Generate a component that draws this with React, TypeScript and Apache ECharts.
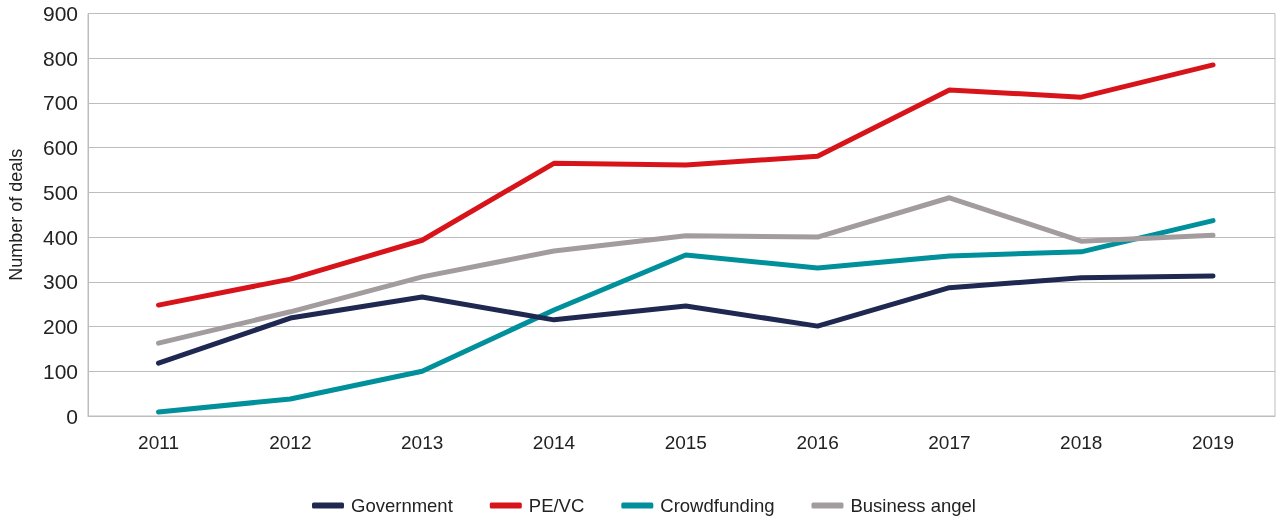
import React, { useEffect, useRef } from "react";
import * as echarts from "echarts";

const years = ["2011", "2012", "2013", "2014", "2015", "2016", "2017", "2018", "2019"];
const government = [118, 219, 266, 215, 246, 201, 287, 309, 313];
const peVc = [248, 306, 393, 565, 561, 581, 729, 713, 785];
const crowdfunding = [9, 38, 100, 237, 360, 331, 358, 367, 437];
const businessAngel = [163, 233, 311, 369, 403, 400, 488, 391, 404];

const seriesNames = ["Government", "PE/VC", "Crowdfunding", "Business angel"];
const seriesColors = ["#1f2851", "#d8141b", "#00909b", "#a39c9f"];

export default function App() {
  const ref = useRef<HTMLDivElement>(null);
  useEffect(() => {
    if (!ref.current) return;
    const chart = echarts.init(ref.current, null, { renderer: "svg" });
    const data = [government, peVc, crowdfunding, businessAngel];
    const font = "'Liberation Sans', Arial, sans-serif";
    chart.setOption({
      animation: false,
      grid: {
        left: 88,
        right: 2,
        top: 13.5,
        bottom: 102,
        containLabel: false,
        outerBoundsMode: "none",
        show: true,
        borderColor: "#bdbdbd",
        borderWidth: 1,
      },
      legend: {
        data: seriesNames,
        left: 307,
        top: 491,
        icon: "roundRect",
        itemWidth: 32,
        itemHeight: 6,
        itemGap: 37,
        textStyle: {
          fontFamily: font,
          fontSize: 18.5,
          color: "#222222",
          padding: [0, 0, 0, 2],
        },
      },
      xAxis: {
        type: "value",
        min: -0.535,
        max: 8.47,
        axisLine: { show: true, onZero: false, lineStyle: { color: "#bdbdbd", width: 1 } },
        axisTick: { show: false },
        axisLabel: {
          customValues: years.map((_, i) => i),
          formatter: (v: number) => years[Math.round(v)] ?? "",
          margin: 17,
          fontFamily: font,
          fontSize: 19,
          color: "#222222",
        },
        splitLine: { show: false },
      },
      yAxis: {
        type: "value",
        min: 0,
        max: 900,
        interval: 100,
        name: "Number of deals",
        nameLocation: "middle",
        nameGap: 63,
        nameRotate: 90,
        nameTextStyle: { fontFamily: font, fontSize: 18, color: "#222222" },
        axisLine: { show: true, onZero: false, lineStyle: { color: "#bdbdbd", width: 1 } },
        axisTick: { show: false },
        axisLabel: {
          margin: 10,
          fontFamily: font,
          fontSize: 21,
          color: "#222222",
        },
        splitLine: { show: true, lineStyle: { color: "#bdbdbd", width: 1 } },
      },
      series: seriesNames.map((name, i) => ({
        name,
        type: "line",
        data: data[i].map((v, j) => [j, v]),
        showSymbol: false,
        symbol: "none",
        color: seriesColors[i],
        lineStyle: { width: 5, color: seriesColors[i], cap: "round", join: "round" },
        z: 2 + (i === 0 ? 3 : i === 1 ? 4 : i === 2 ? 1 : 2),
      })),
    });
    return () => chart.dispose();
  }, []);
  return (
    <div
      ref={ref}
      style={{ position: "fixed", left: 0, top: 0, width: 1277, height: 518 }}
    />
  );
}
